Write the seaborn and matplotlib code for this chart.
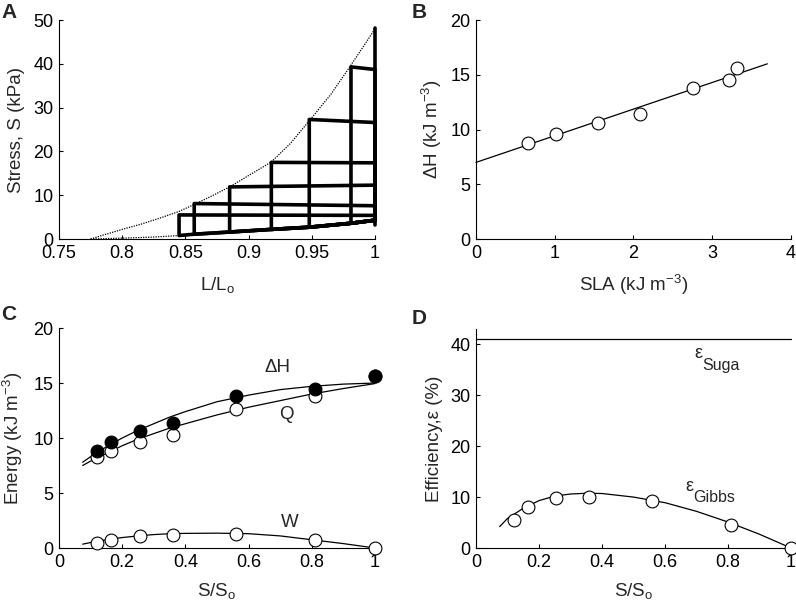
import matplotlib
matplotlib.use("Agg")
import matplotlib.pyplot as plt
import seaborn as sns
import pandas as pd

# ---- panel A: stress vs length work loops ----
iso_L = [0.775, 0.785, 0.80, 0.815, 0.83, 0.845, 0.857, 0.87, 0.885, 0.90,
         0.918, 0.933, 0.948, 0.965, 0.98, 0.99, 1.0]
iso_S = [0.0, 0.9, 2.2, 3.4, 4.8, 6.3, 7.9, 9.7, 11.9, 14.5,
         17.6, 21.8, 27.0, 33.0, 39.3, 43.6, 48.0]
low_L = [0.775, 0.80, 0.825, 0.845]
low_S = [0.0, 0.2, 0.45, 0.8]
passive_L = [0.845, 0.857, 0.885, 0.918, 0.948, 0.981, 1.0]
passive_S = [0.8, 1.1, 1.6, 2.2, 2.7, 3.6, 4.3]
loop_end_L = [0.981, 0.948, 0.918, 0.885, 0.857, 0.845]
loop_S_left = [39.3, 27.3, 17.5, 11.9, 8.1, 5.5]
loop_S_right = [38.7, 26.6, 17.4, 12.3, 7.6, 5.4]
iso_line_S = [3.2, 48.2]

# ---- panel B: enthalpy vs SLA ----
sla = [0.66, 1.02, 1.55, 2.08, 2.76, 3.21, 3.31]
dH = [8.8, 9.6, 10.6, 11.4, 13.8, 14.5, 15.6]
fit_sla = [0.0, 3.7]
fit_dH = [7.0, 16.0]

# ---- panel C/D: energies and efficiency vs S/So ----
s_ratio = [0.12, 0.165, 0.255, 0.36, 0.56, 0.81, 1.0]
Q = [8.3, 8.8, 9.6, 10.3, 12.6, 13.8, 15.6]
W = [0.5, 0.75, 1.05, 1.15, 1.25, 0.7, 0.0]
eff = [5.5, 8.0, 9.9, 10.0, 9.2, 4.6, 0.0]

curve_x = [0.075, 0.1, 0.15, 0.2, 0.25, 0.3, 0.35, 0.4, 0.5, 0.6, 0.7, 0.8, 0.9, 1.0]
curve_dH = [7.8, 8.3, 9.2, 10.0, 10.7, 11.3, 11.9, 12.4, 13.3, 13.9, 14.4, 14.7, 14.9, 15.0]
curve_Q = [7.5, 7.9, 8.6, 9.3, 9.9, 10.4, 10.9, 11.3, 12.1, 12.8, 13.4, 14.0, 14.5, 14.95]
curve_W = [0.35, 0.5, 0.75, 0.95, 1.1, 1.22, 1.3, 1.33, 1.35, 1.3, 1.1, 0.75, 0.4, 0.0]
curve_eff = [4.2, 5.8, 7.8, 9.3, 10.2, 10.6, 10.75, 10.7, 10.0, 8.9, 7.2, 5.1, 2.7, 0.0]
suga_x = [0.0, 1.0]
suga_eff = [41.0, 41.0]

sns.set_style("ticks")
plt.rcParams['font.family'] = ['Liberation Sans', 'DejaVu Sans']
plt.rcParams['mathtext.fontset'] = 'custom'
plt.rcParams['mathtext.rm'] = 'Liberation Sans'
plt.rcParams['mathtext.it'] = 'Liberation Sans:italic'

TICK_FS = 13
LAB_FS = 13.5

fig = plt.figure(figsize=(7.96, 6.03), dpi=100)
axA = fig.add_axes([0.0741, 0.6036, 0.397, 0.3632])
axB = fig.add_axes([0.598, 0.6036, 0.3957, 0.3632])
axC = fig.add_axes([0.0741, 0.0912, 0.397, 0.3648])
axD = fig.add_axes([0.598, 0.0912, 0.3957, 0.3632])


def style(ax):
    sns.despine(ax=ax)
    ax.tick_params(direction='in', length=3, width=0.8, labelsize=TICK_FS, colors='black')
    ax.tick_params(axis='x', pad=4.5)
    ax.tick_params(axis='y', pad=4)
    for sp in ax.spines.values():
        sp.set_linewidth(0.8)
        sp.set_color('black')


def line(ax, x, y, **kw):
    df = pd.DataFrame({"x": x, "y": y})
    sns.lineplot(data=df, x="x", y="y", sort=False, estimator=None, ax=ax,
                 color='black', clip_on=False, **kw)


def circles(ax, x, y, fill='white', z=3):
    sns.scatterplot(x=x, y=y, ax=ax, marker='o', s=85, facecolor=fill,
                    edgecolor='black', linewidth=0.8, zorder=z, clip_on=False)


# A
line(axA, iso_L, iso_S, lw=0.9, linestyle=(0, (1, 1)))
line(axA, low_L, low_S, lw=0.9, linestyle=(0, (1, 1)))
for xe, sl, sr in zip(loop_end_L, loop_S_left, loop_S_right):
    pl = [p for p in zip(passive_L, passive_S) if p[0] >= xe]
    px = [1.0, 1.0, xe] + [p[0] for p in pl]
    py = [passive_S[-1], sr, sl] + [p[1] for p in pl]
    line(axA, px, py, lw=2.6)
line(axA, [1.0, 1.0], iso_line_S, lw=2.6)
axA.set_xlim(0.75, 1.0)
axA.set_ylim(0, 50)
axA.set_xticks([0.75, 0.8, 0.85, 0.9, 0.95, 1.0])
axA.set_xticklabels(["0.75", "0.8", "0.85", "0.9", "0.95", "1"])
axA.set_yticks([0, 10, 20, 30, 40, 50])
axA.set_xlabel("L/L$_\\mathregular{o}$", fontsize=LAB_FS, labelpad=9)
axA.set_ylabel("Stress, S (kPa)", fontsize=LAB_FS)
style(axA)

# B
line(axB, fit_sla, fit_dH, lw=0.9)
circles(axB, sla, dH)
axB.set_xlim(0, 4)
axB.set_ylim(0, 20)
axB.set_xticks([0, 1, 2, 3, 4])
axB.set_yticks([0, 5, 10, 15, 20])
axB.set_xlabel("SLA (kJ m$^{\\mathregular{-3}}$)", fontsize=LAB_FS, labelpad=8)
axB.set_ylabel("ΔH (kJ m$^{\\mathregular{-3}}$)", fontsize=LAB_FS)
style(axB)

# C
line(axC, curve_x, curve_dH, lw=0.9)
line(axC, curve_x, curve_Q, lw=0.9)
line(axC, curve_x, curve_W, lw=0.9)
circles(axC, s_ratio, Q)
circles(axC, s_ratio, W)
circles(axC, s_ratio, dH, fill='black', z=4)
axC.text(0.69, 16.4, "ΔH", fontsize=LAB_FS, ha='center', va='center')
axC.text(0.72, 12.1, "Q", fontsize=LAB_FS, ha='center', va='center')
axC.text(0.73, 2.3, "W", fontsize=LAB_FS, ha='center', va='center')
axC.set_xlim(0, 1)
axC.set_ylim(0, 20)
axC.set_xticks([0, 0.2, 0.4, 0.6, 0.8, 1.0])
axC.set_xticklabels(["0", "0.2", "0.4", "0.6", "0.8", "1"])
axC.set_yticks([0, 5, 10, 15, 20])
axC.set_xlabel("S/S$_\\mathregular{o}$", fontsize=LAB_FS, labelpad=7)
axC.set_ylabel("Energy (kJ m$^{\\mathregular{-3}}$)", fontsize=LAB_FS)
style(axC)

# D
line(axD, suga_x, suga_eff, lw=0.9)
line(axD, curve_x, curve_eff, lw=0.9)
circles(axD, s_ratio, eff)
axD.text(0.705, 38.2, "ε", fontsize=13, ha='center', va='center')
axD.text(0.719, 35.9, "Suga", fontsize=11.5, ha='left', va='center')
axD.text(0.676, 12.0, "ε", fontsize=13, ha='center', va='center')
axD.text(0.690, 9.85, "Gibbs", fontsize=11.5, ha='left', va='center')
axD.set_xlim(0, 1)
axD.set_ylim(0, 43)
axD.set_xticks([0, 0.2, 0.4, 0.6, 0.8, 1.0])
axD.set_xticklabels(["0", "0.2", "0.4", "0.6", "0.8", "1"])
axD.set_yticks([0, 10, 20, 30, 40])
axD.set_xlabel("S/S$_\\mathregular{o}$", fontsize=LAB_FS, labelpad=7)
axD.set_ylabel("Efficiency,ε (%)", fontsize=LAB_FS)
style(axD)

axA.yaxis.set_label_coords(-0.108, 0.5)
axB.yaxis.set_label_coords(-0.103, 0.5)
axC.yaxis.set_label_coords(-0.108, 0.5)
axD.yaxis.set_label_coords(-0.106, 0.5)

fig.text(0.002, 0.995, "A", fontsize=15, fontweight='bold', va='top')
fig.text(0.517, 0.995, "B", fontsize=15, fontweight='bold', va='top')
fig.text(0.002, 0.495, "C", fontsize=15, fontweight='bold', va='top')
fig.text(0.517, 0.487, "D", fontsize=15, fontweight='bold', va='top')

fig.savefig("out.png", dpi=100)
